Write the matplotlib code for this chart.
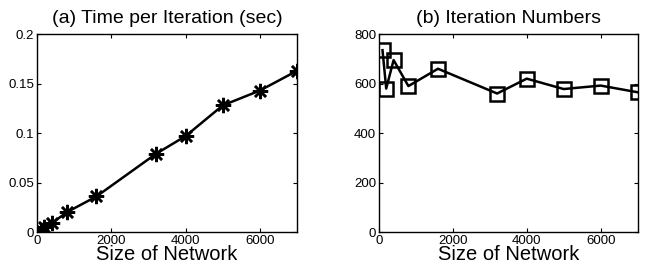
import matplotlib
matplotlib.use('Agg')
import matplotlib.pyplot as plt

plt.rcParams['font.family'] = ['Liberation Sans', 'DejaVu Sans']

# network sizes and measurements
sizes = [100, 200, 400, 800, 1600, 3200, 4000, 5000, 6000, 7000]
time_per_iter = [0.002, 0.005, 0.009, 0.020, 0.036, 0.079, 0.097, 0.128, 0.143, 0.163]
iter_numbers = [735, 580, 695, 590, 660, 560, 620, 578, 592, 565]

fig = plt.figure(figsize=(6.52, 2.75), dpi=100)
ax1 = fig.add_axes([0.0567, 0.156, 0.399, 0.72])
ax2 = fig.add_axes([0.581, 0.156, 0.397, 0.72])

ax1.plot(sizes, time_per_iter, color='black', lw=1.8,
         marker=(8, 2, 0), markersize=11, markeredgewidth=1.8)
ax1.set_ylim(0, 0.2)
ax1.set_yticks([0, 0.05, 0.1, 0.15, 0.2])
ax1.set_yticklabels(['0', '0.05', '0.1', '0.15', '0.2'])
ax1.set_title('(a) Time per Iteration (sec)', fontsize=14, pad=8)

ax2.plot(sizes, iter_numbers, color='black', lw=1.8, marker='s',
         markersize=9.5, markerfacecolor='none', markeredgewidth=1.8)
ax2.set_ylim(0, 800)
ax2.set_yticks([0, 200, 400, 600, 800])
ax2.set_title('(b) Iteration Numbers', fontsize=14, pad=8)

for ax in (ax1, ax2):
    ax.set_xlim(0, 7000)
    ax.set_xticks([0, 2000, 4000, 6000])
    ax.set_xlabel('Size of Network', fontsize=14.5, labelpad=-1)
    ax.tick_params(direction='in', top=True, right=True, labelsize=9.5,
                   length=3, pad=2)
    for s in ax.spines.values():
        s.set_linewidth(1.0)
    for lbl in ax.get_xticklabels() + ax.get_yticklabels():
        lbl.set_clip_on(False)

fig.savefig('out.png', dpi=100)
